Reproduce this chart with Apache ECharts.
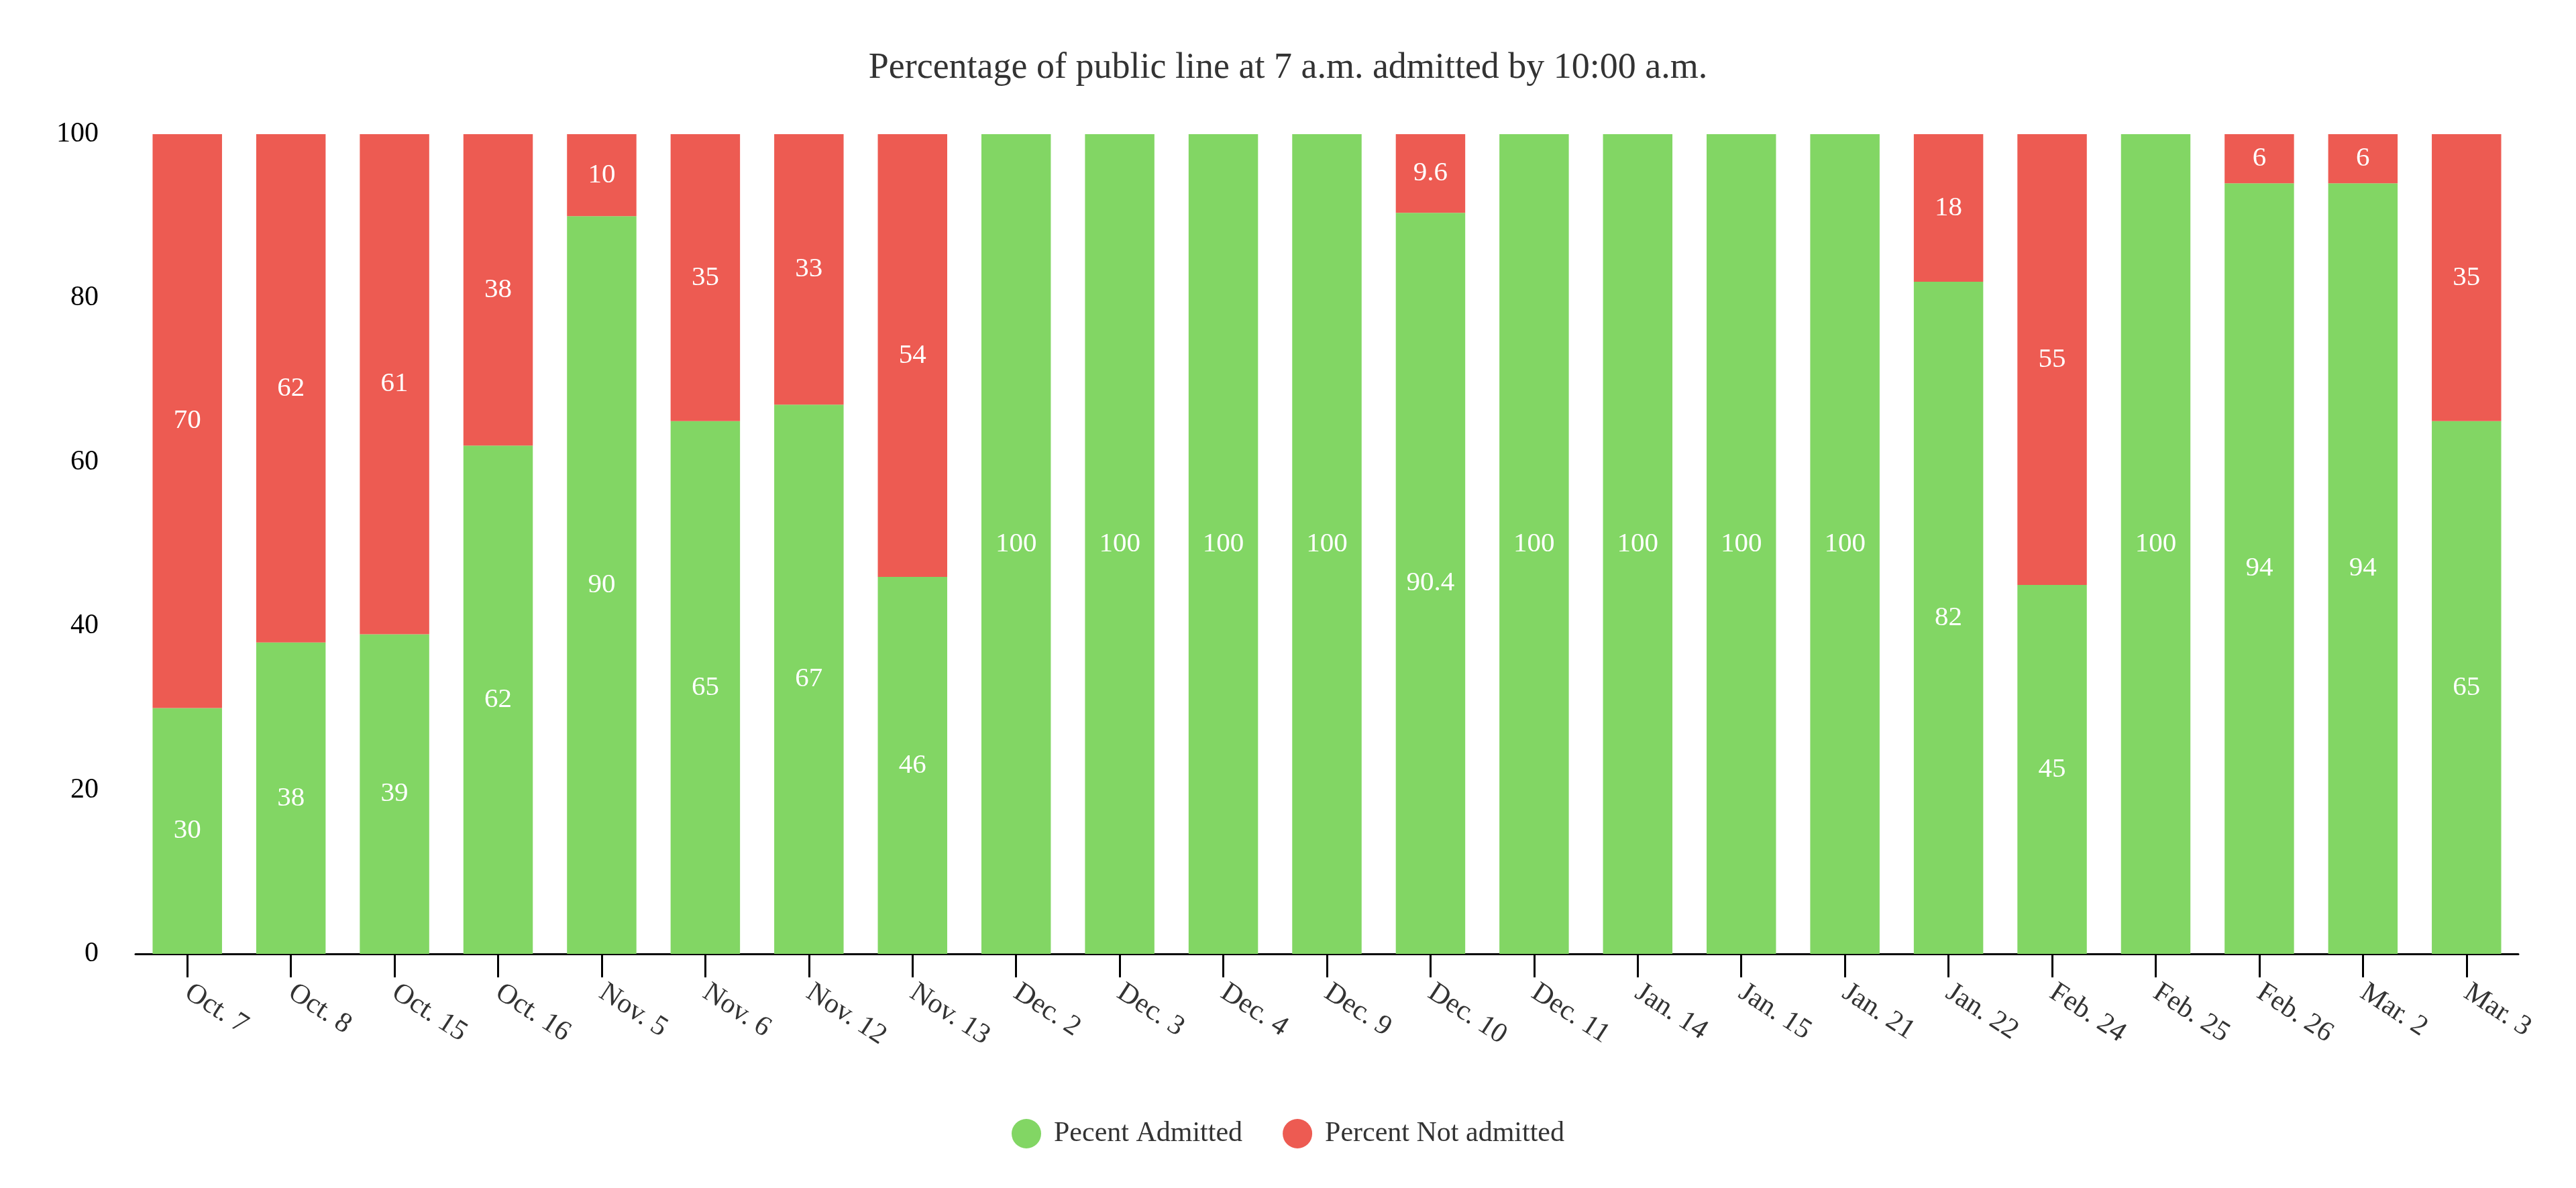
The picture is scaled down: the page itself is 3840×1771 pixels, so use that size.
<!DOCTYPE html>
<html>
<head>
<meta charset="utf-8">
<script src="https://cdn.jsdelivr.net/npm/echarts@6/dist/echarts.min.js"></script>
<style>
html,body{margin:0;padding:0;background:#fff;}
#chart{width:3840px;height:1771px;}
</style>
</head>
<body>
<div id="chart"></div>
<script>
const categories = ["Oct. 7","Oct. 8","Oct. 15","Oct. 16","Nov. 5","Nov. 6","Nov. 12","Nov. 13","Dec. 2","Dec. 3","Dec. 4","Dec. 9","Dec. 10","Dec. 11","Jan. 14","Jan. 15","Jan. 21","Jan. 22","Feb. 24","Feb. 25","Feb. 26","Mar. 2","Mar. 3"];
const admitted = [30,38,39,62,90,65,67,46,100,100,100,100,90.4,100,100,100,100,82,45,100,94,94,65];
const notAdmitted = [70,62,61,38,10,35,33,54,0,0,0,0,9.6,0,0,0,0,18,55,0,6,6,35];
const yTicks = {min:0, max:100, interval:20};

const FONT = '"Liberation Serif", "DejaVu Serif", serif';
const chart = echarts.init(document.getElementById('chart'), null, {renderer:'canvas'});
const labelCfg = {
  show:true, position:'inside', color:'#fff', fontFamily:FONT, fontSize:41,
  formatter: p => (p.value ? String(p.value) : '')
};
chart.setOption({
  backgroundColor:'#fff',
  animation:false,
  title:{
    text:'Percentage of public line at 7 a.m. admitted by 10:00 a.m.',
    left:'center', top:70,
    textStyle:{fontFamily:FONT, fontSize:54, fontWeight:'normal', color:'#333'}
  },
  legend:{
    bottom:54, left:'center', icon:'circle',
    itemWidth:72, itemHeight:44, itemGap:60,
    textStyle:{fontFamily:FONT, fontSize:42, color:'#333'}
  },
  grid:{left:202, right:86, top:200, bottom:349, containLabel:false},
  xAxis:{
    type:'category', data:categories,
    axisLine:{show:true, lineStyle:{color:'#000', width:3}},
    axisTick:{show:true, alignWithLabel:true, length:35, lineStyle:{color:'#000', width:3}},
    axisLabel:{rotate:-33, margin:54, fontFamily:FONT, fontSize:42, color:'#333', interval:0}
  },
  yAxis:{
    type:'value', min:yTicks.min, max:yTicks.max, interval:yTicks.interval,
    axisLine:{show:false}, axisTick:{show:false}, splitLine:{show:false},
    axisLabel:{margin:55, fontFamily:FONT, fontSize:42, color:'#000'}
  },
  series:[
    {name:'Pecent Admitted', type:'bar', stack:'total', data:admitted,
     barCategoryGap:'33%', itemStyle:{color:'#82d664'}, label:labelCfg},
    {name:'Percent Not admitted', type:'bar', stack:'total', data:notAdmitted,
     barCategoryGap:'33%', itemStyle:{color:'#ed5b52'}, label:labelCfg}
  ]
});
</script>
</body>
</html>
